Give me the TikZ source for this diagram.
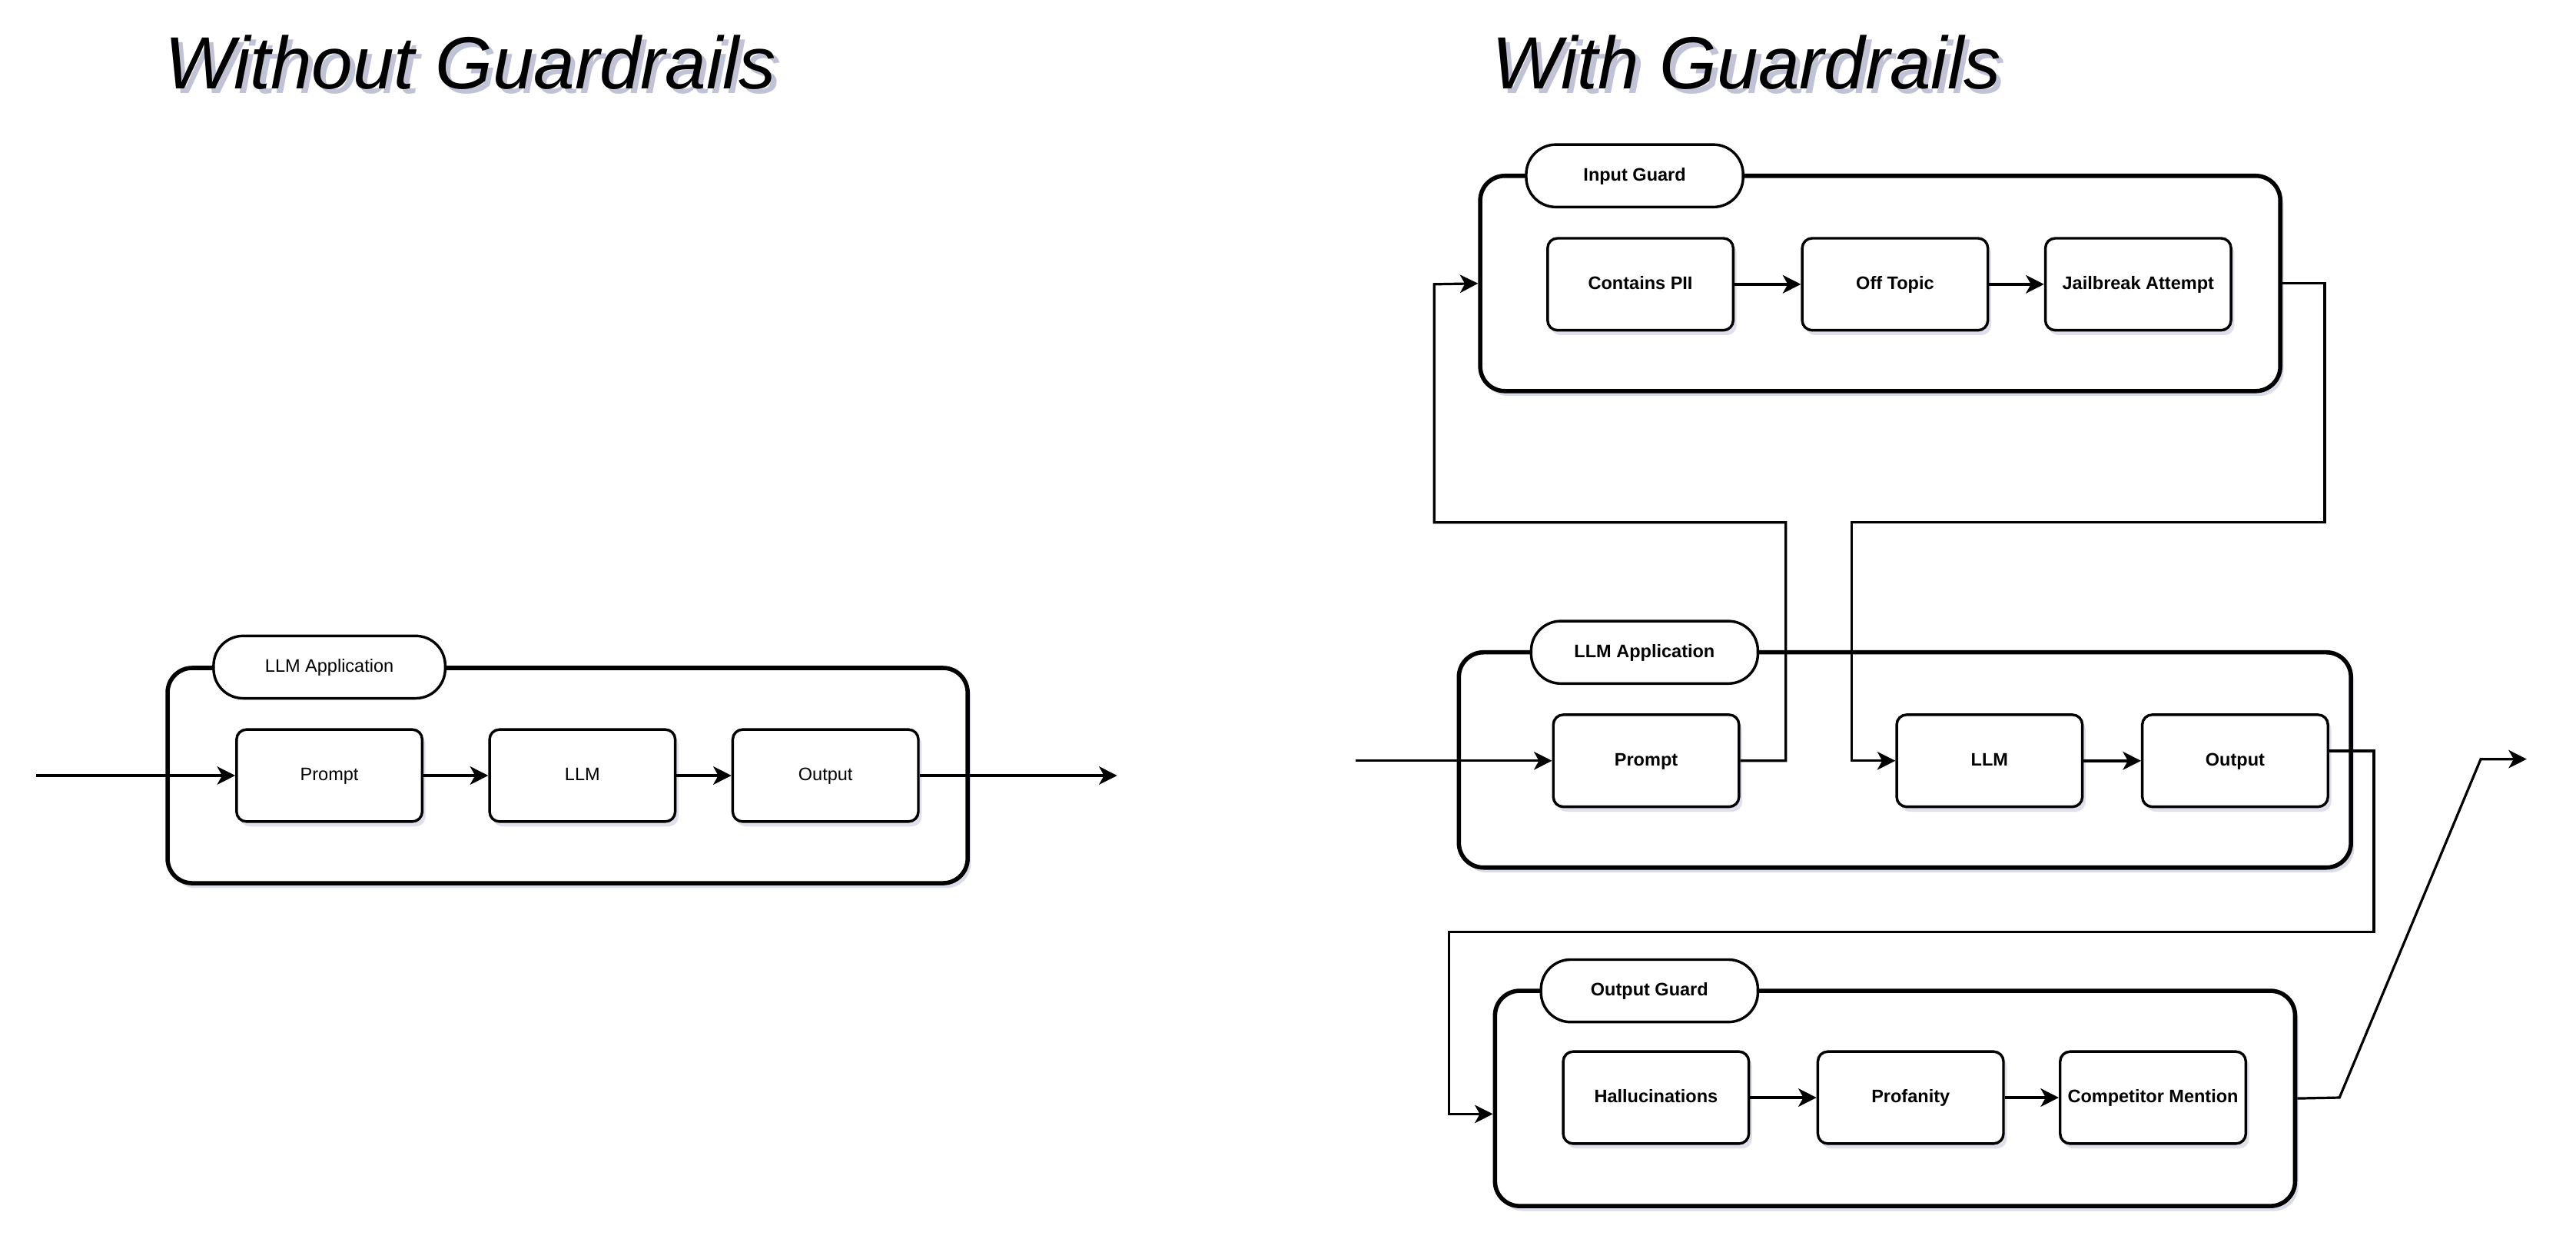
\documentclass[tikz,border=0pt]{standalone}
\usepackage{fontspec}
\setmainfont{Liberation Sans}
\usetikzlibrary{arrows.meta,shadows}
\definecolor{shade}{RGB}{150,155,185}

\begin{document}
\begin{tikzpicture}[x=1pt,y=-1pt,
  title/.style={anchor=base west,inner sep=0pt,font=\itshape\fontsize{45}{54}\selectfont},
  group/.style={draw,line width=2.6pt,rounded corners=15pt,fill=white,minimum width=#1,minimum height=131pt,inner sep=0pt,
    drop shadow={shadow xshift=2pt,shadow yshift=-3pt,opacity=0.35,fill=shade}},
  tab/.style={draw,line width=1.6pt,rounded corners=18pt,fill=white,minimum width=#1,minimum height=38pt,inner sep=0pt,
    text height=8pt,text depth=2pt,font=\fontsize{11}{13}\selectfont},
  box/.style={draw,line width=1.6pt,rounded corners=6pt,fill=white,minimum width=113pt,minimum height=56pt,inner sep=0pt,
    text height=8pt,text depth=2pt,font=\fontsize{11}{13}\selectfont,
    drop shadow={shadow xshift=2pt,shadow yshift=-3pt,opacity=0.3,fill=shade}},
  bold/.style={font=\bfseries\fontsize{11}{13}\selectfont},
  flow/.style={-{Stealth[length=11pt,width=11pt,inset=3pt]},line width=1.5pt},
  link/.style={flow,line width=2pt}]
\useasboundingbox (0,0) rectangle (1568,760);

\node[title,text=shade,opacity=0.6] (t1s) at (103,57) {Without Guardrails};
\node[title] (t1) at (100,54) {Without Guardrails};
\node[title,text=shade,opacity=0.6] (t2s) at (911,57) {With Guardrails};
\node[title] (t2) at (908,54) {With Guardrails};

\node[group=487pt] (lapp) at (345.5,472) {};
\node[tab=141pt] (ltab) at (200.5,406) {LLM Application};
\node[box] (lprompt) at (200.5,472) {Prompt};
\node[box] (lllm) at (354.5,472) {LLM};
\node[box] (lout) at (502.5,472) {Output};
\coordinate (lin) at (22,472);
\coordinate (lend) at (680,472);
\draw[flow] (lin) -- (lprompt);
\draw[link] (lprompt) -- (lllm);
\draw[link] (lllm) -- (lout);
\draw[flow] (lout) -- (lend);

\node[group=487pt] (ig) at (1144.5,172.5) {};
\node[tab=132pt,bold] (igtab) at (995,107) {Input Guard};
\node[box,bold] (pii) at (998.5,173) {Contains PII};
\node[box,bold] (topic) at (1153.5,173) {Off Topic};
\node[box,bold] (jail) at (1301.5,173) {Jailbreak Attempt};
\draw[link] (pii) -- (topic);
\draw[link] (topic) -- (jail);

\node[group=543pt] (app) at (1159.5,462.5) {};
\node[tab=138pt,bold] (apptab) at (1001,397) {LLM Application};
\node[box,bold] (rprompt) at (1002,463) {Prompt};
\node[box,bold] (rllm) at (1211,463) {LLM};
\node[box,bold] (rout) at (1360.5,463) {Output};
\draw[link] (rllm) -- (rout);

\node[group=487pt] (og) at (1153.5,668.5) {};
\node[tab=132pt,bold] (ogtab) at (1004,603) {Output Guard};
\node[box,bold] (hal) at (1008,668) {Hallucinations};
\node[box,bold] (prof) at (1163,668) {Profanity};
\node[box,bold] (comp) at (1310.5,668) {Competitor Mention};
\draw[link] (hal) -- (prof);
\draw[link] (prof) -- (comp);

\coordinate (rin) at (825,463);
\coordinate (b1) at (1087,318);
\coordinate (b2) at (873,173);
\coordinate (c1) at (1415,318);
\coordinate (c2) at (1127,463);
\coordinate (d1) at (1445,567);
\coordinate (d2) at (882,678);
\coordinate (e1) at (1424,668);
\coordinate (e2) at (1510,462);
\coordinate (rend) at (1538,462);
\draw[flow] (rin) -- (rprompt);
\draw[flow] (rprompt.east) -| (b1) -| (b2) -- (ig.west);
\draw[flow] (ig.east) -| (c1) -| (c2) -- (rllm.west);
\draw[flow] ([yshift=6pt]rout.east) -| (d1) -| (d2) -- (d2 -| og.west);
\draw[flow] (og.east) -- (e1) -- (e2) -- (rend);
\end{tikzpicture}
\end{document}
